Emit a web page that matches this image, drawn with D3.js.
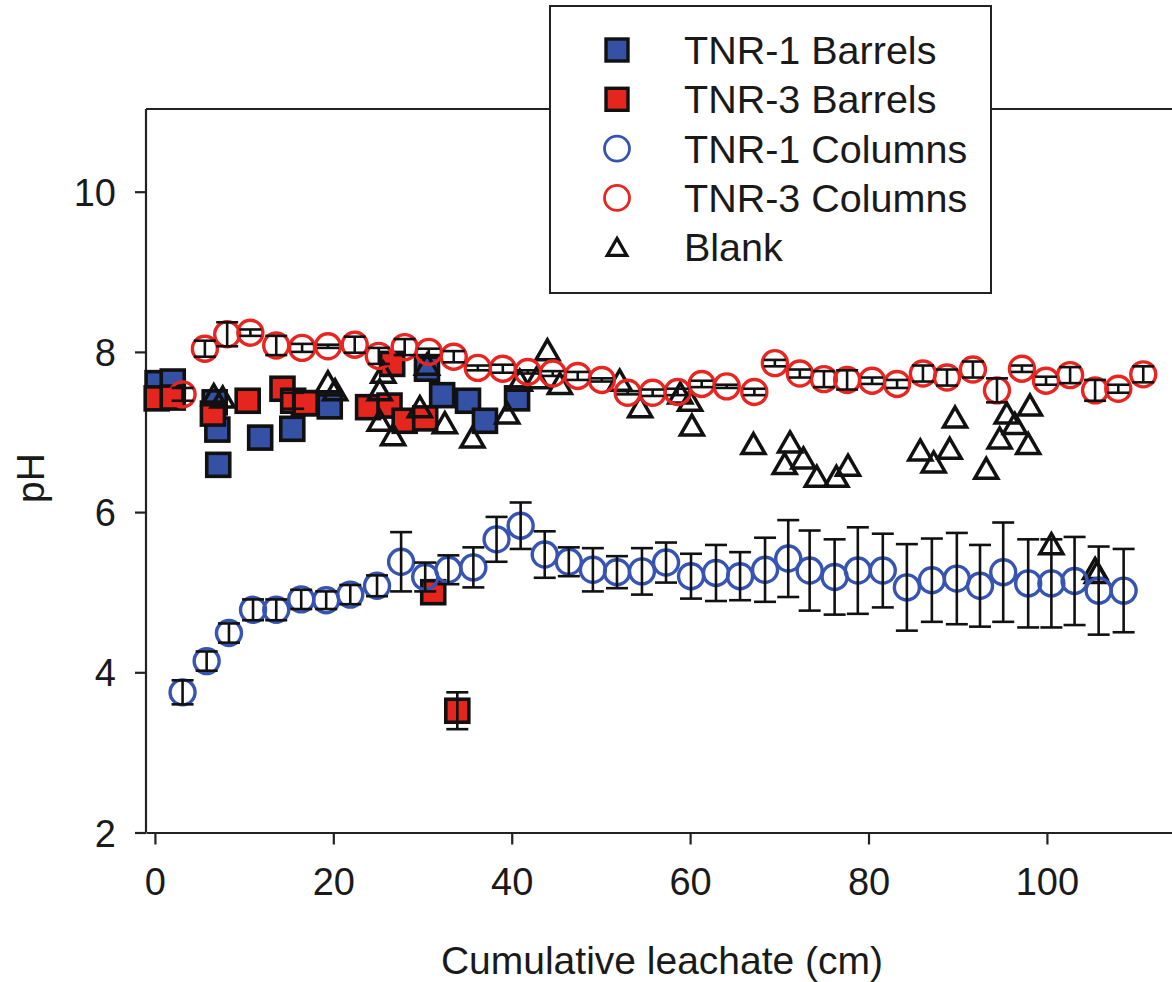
<!DOCTYPE html>
<html>
<head>
<meta charset="utf-8">
<script src="https://cdn.jsdelivr.net/npm/d3@7"></script>
<style>
  body { margin: 0; background: #fff; }
  text { font-family: "Liberation Sans", Arial, sans-serif; fill: #1a1a1a; }
</style>
</head>
<body>
<div id="chart"></div>
<script>
// TNR-1 Columns: cumulative leachate (cm), pH, error
const tnr1ColX = [3.1, 5.8, 8.3, 11.0, 13.6, 16.4, 19.2, 21.9, 24.9, 27.6, 30.3, 32.9, 35.7, 38.3, 41.0, 43.7, 46.4, 49.1, 51.8, 54.6,
    57.3, 60.1, 62.9, 65.6, 68.4, 71.0, 73.4, 76.2, 78.8, 81.6, 84.3, 87.1, 89.9, 92.5, 95.1, 97.9, 100.5, 103.1, 105.8, 108.6];
const tnr1ColPH = [3.75, 4.14, 4.49, 4.78, 4.78, 4.91, 4.90, 4.97, 5.08, 5.38, 5.19, 5.28, 5.31, 5.66, 5.83, 5.47, 5.38, 5.28, 5.25, 5.26,
    5.37, 5.20, 5.24, 5.20, 5.28, 5.42, 5.27, 5.19, 5.27, 5.27, 5.06, 5.15, 5.17, 5.08, 5.25, 5.11, 5.11, 5.14, 5.02, 5.02];
const tnr1ColErr = [0.15, 0.12, 0.12, 0.13, 0.13, 0.12, 0.11, 0.12, 0.13, 0.37, 0.18, 0.18, 0.25, 0.28, 0.29, 0.29, 0.18, 0.27, 0.20, 0.29,
    0.25, 0.28, 0.35, 0.30, 0.40, 0.48, 0.50, 0.47, 0.54, 0.46, 0.54, 0.52, 0.57, 0.51, 0.62, 0.55, 0.55, 0.55, 0.55, 0.52];

// TNR-3 Columns
const tnr3ColX = [3.1, 5.6, 8.1, 10.7, 13.6, 16.5, 19.4, 22.4, 25.1, 28.0, 30.7, 33.5, 36.2, 39.0, 41.8, 44.6, 47.4, 50.1, 53.0, 55.8,
    58.6, 61.3, 64.1, 67.2, 69.5, 72.3, 75.0, 77.6, 80.4, 83.2, 86.1, 88.8, 91.7, 94.4, 97.2, 99.9, 102.6, 105.4, 108.0, 110.8];
const tnr3ColPH = [7.47, 8.04, 8.22, 8.24, 8.08, 8.05, 8.07, 8.09, 7.95, 8.06, 8.00, 7.94, 7.80, 7.79, 7.75, 7.73, 7.70, 7.65, 7.49, 7.49,
    7.50, 7.60, 7.57, 7.50, 7.86, 7.73, 7.66, 7.65, 7.64, 7.60, 7.73, 7.68, 7.78, 7.52, 7.79, 7.64, 7.71, 7.52, 7.54, 7.72];
const tnr3ColErr = [0.08, 0.10, 0.15, 0.04, 0.12, 0.05, 0.02, 0.10, 0.10, 0.10, 0.04, 0.07, 0.03, 0.05, 0.02, 0.03, 0.05, 0.02, 0.02, 0.04,
    0.04, 0.04, 0.02, 0.04, 0.04, 0.05, 0.10, 0.12, 0.04, 0.05, 0.10, 0.10, 0.10, 0.15, 0.04, 0.05, 0.10, 0.13, 0.05, 0.10];

// TNR-1 Barrels
const tnr1BarX = [0.3, 2.0, 6.7, 7.0, 7.1, 11.8, 15.4, 16.7, 19.6, 30.5, 32.2, 35.1, 37.0, 40.6];
const tnr1BarPH = [7.61, 7.63, 7.37, 7.03, 6.59, 6.93, 7.04, 7.36, 7.32, 7.79, 7.46, 7.39, 7.14, 7.42];

// TNR-3 Barrels
const tnr3BarX = [0.2, 2.0, 6.5, 10.4, 14.3, 15.5, 16.9, 23.9, 26.3, 26.6, 28.0, 30.3, 31.2, 33.9];
const tnr3BarPH = [7.42, 7.43, 7.23, 7.39, 7.54, 7.39, 7.36, 7.31, 7.33, 7.85, 7.14, 7.17, 5.00, 3.52];
const tnr3BarErr = [0, 0, 0, 0, 0, 0.10, 0, 0, 0, 0, 0, 0, 0, 0.23];

// Blank
const blankX = [6.6, 7.6, 19.4, 20.2, 25.6, 25.2, 25.2, 26.7, 29.7, 30.5, 32.5, 35.6, 39.5, 40.9, 42.8, 44.0, 45.4, 52.1, 54.4, 58.9,
    60.0, 60.2, 67.1, 71.2, 70.6, 72.7, 74.2, 76.4, 77.7, 85.8, 87.3, 89.1, 89.7, 93.2, 94.7, 95.5, 96.4, 98.1, 97.9, 100.5, 105.4, 105.6];
const blankPH = [7.46, 7.43, 7.62, 7.52, 7.74, 7.52, 7.14, 6.96, 7.31, 7.84, 7.11, 6.93, 7.23, 7.64, 7.67, 8.02, 7.60, 7.64, 7.31, 7.48,
    7.39, 7.08, 6.85, 6.87, 6.60, 6.67, 6.44, 6.44, 6.58, 6.77, 6.62, 6.79, 7.18, 6.54, 6.92, 7.23, 7.10, 7.33, 6.85, 5.60, 5.29, 5.24];

const xTicks = [0, 20, 40, 60, 80, 100];
const yTicks = [2, 4, 6, 8, 10];
const legendLabels = ["TNR-1 Barrels", "TNR-3 Barrels", "TNR-1 Columns", "TNR-3 Columns", "Blank"];

const BLUE = "#3451a6";
const RED = "#e5261f";
const BLUE_LINE = "#3654b2";
const RED_LINE = "#e82520";

// Set the dimensions and margins of the graph
const W = 1172, H = 982;
const margin = { top: 109, left: 146 };
const plotBottom = 832.5;

const svg = d3.select("#chart")
    .append("svg")
    .attr("width", W)
    .attr("height", H);

const x = d3.scaleLinear()
    .domain([-1, 115])
    .range([margin.left, margin.left + 116 * 8.92]);

const y = d3.scaleLinear()
    .domain([2, 10])
    .range([plotBottom, 191.7]);

// zip helper
const zip = (xs, ys, es) => xs.map((v, i) => ({ x: v, y: ys[i], e: es ? es[i] : 0 }));

const tnr1Col = zip(tnr1ColX, tnr1ColPH, tnr1ColErr);
const tnr3Col = zip(tnr3ColX, tnr3ColPH, tnr3ColErr);
const tnr1Bar = zip(tnr1BarX, tnr1BarPH);
const tnr3Bar = zip(tnr3BarX, tnr3BarPH, tnr3BarErr);
const blank = zip(blankX, blankPH);

// top frame line
svg.append("line")
    .attr("x1", margin.left).attr("x2", W + 10)
    .attr("y1", margin.top).attr("y2", margin.top)
    .attr("stroke", "#222").attr("stroke-width", 2);

// Axes
const xAxis = svg.append("g")
    .attr("transform", `translate(0,${plotBottom})`)
    .call(d3.axisBottom(x).tickValues(xTicks).tickSize(12).tickSizeOuter(0).tickPadding(24));

const yAxis = svg.append("g")
    .attr("transform", `translate(${margin.left},0)`)
    .call(d3.axisLeft(y).tickValues(yTicks).tickSize(11).tickSizeOuter(0).tickPadding(19));

// y axis line goes up to the frame top
yAxis.select(".domain").attr("d", `M0,${margin.top}V${plotBottom}`);

[xAxis, yAxis].forEach(g => {
    g.select(".domain").attr("stroke", "#222").attr("stroke-width", 2.2);
    g.selectAll(".tick line").attr("stroke", "#222").attr("stroke-width", 2.2);
    g.selectAll(".tick text")
        .attr("font-size", 38)
        .attr("font-family", "Liberation Sans, Arial, sans-serif")
        .attr("fill", "#1a1a1a");
});
yAxis.selectAll(".tick text").attr("dy", "0.36em");

// Axis titles
svg.append("text")
    .attr("x", 662)
    .attr("y", 974)
    .attr("text-anchor", "middle")
    .attr("font-size", 39)
    .text("Cumulative leachate (cm)");

svg.append("text")
    .attr("transform", "translate(44,478) rotate(-90)")
    .attr("text-anchor", "middle")
    .attr("font-size", 39)
    .text("pH");

// Error bars helper
function errorBars(data, capW) {
    const g = svg.append("g").attr("stroke", "#111").attr("stroke-width", 2.6);
    data.filter(d => d.e > 0).forEach(d => {
        const cx = x(d.x), y0 = y(d.y - d.e), y1 = y(d.y + d.e);
        g.append("line").attr("x1", cx).attr("x2", cx).attr("y1", y0).attr("y2", y1);
        g.append("line").attr("x1", cx - capW / 2).attr("x2", cx + capW / 2).attr("y1", y0).attr("y2", y0);
        g.append("line").attr("x1", cx - capW / 2).attr("x2", cx + capW / 2).attr("y1", y1).attr("y2", y1);
    });
}

// Squares (barrels)
function squares(data, fill) {
    svg.append("g").selectAll("rect")
        .data(data)
        .enter()
        .append("rect")
        .attr("x", d => x(d.x) - 11.5)
        .attr("y", d => y(d.y) - 11.5)
        .attr("width", 23)
        .attr("height", 23)
        .attr("fill", fill)
        .attr("stroke", "#111")
        .attr("stroke-width", 3.6);
}

squares(tnr1Bar, BLUE);
squares(tnr3Bar, RED);
errorBars(tnr3Bar, 22);

// Triangles (blank)
const tri = "M0,-11.5L11.5,8.5L-11.5,8.5Z";
svg.append("g").selectAll("path")
    .data(blank)
    .enter()
    .append("path")
    .attr("transform", d => `translate(${x(d.x)},${y(d.y) + 1})`)
    .attr("d", tri)
    .attr("fill", "none")
    .attr("stroke", "#111")
    .attr("stroke-width", 3.5)
    .attr("stroke-linejoin", "miter");

// Circles (columns) with error bars
function circles(data, color) {
    svg.append("g").selectAll("circle")
        .data(data)
        .enter()
        .append("circle")
        .attr("cx", d => x(d.x))
        .attr("cy", d => y(d.y))
        .attr("r", 12.5)
        .attr("fill", "none")
        .attr("stroke", color)
        .attr("stroke-width", 3.4);
    errorBars(data, 22);
}

circles(tnr1Col, BLUE_LINE);
circles(tnr3Col, RED_LINE);

// Legend
const legend = svg.append("g");
legend.append("rect")
    .attr("x", 550).attr("y", 6)
    .attr("width", 441).attr("height", 287)
    .attr("fill", "#fff")
    .attr("stroke", "#222")
    .attr("stroke-width", 2);

const rowY = d3.range(5).map(i => 50 + i * 49.3);
const symX = 617;

legend.append("rect").attr("x", symX - 11).attr("y", rowY[0] - 11).attr("width", 22).attr("height", 22)
    .attr("fill", BLUE).attr("stroke", "#111").attr("stroke-width", 3.4);
legend.append("rect").attr("x", symX - 11).attr("y", rowY[1] - 11).attr("width", 22).attr("height", 22)
    .attr("fill", RED).attr("stroke", "#111").attr("stroke-width", 3.4);
legend.append("circle").attr("cx", symX).attr("cy", rowY[2]).attr("r", 12.5)
    .attr("fill", "none").attr("stroke", BLUE_LINE).attr("stroke-width", 2.8);
legend.append("circle").attr("cx", symX).attr("cy", rowY[3]).attr("r", 12.5)
    .attr("fill", "none").attr("stroke", RED_LINE).attr("stroke-width", 2.8);
legend.append("path").attr("transform", `translate(${symX},${rowY[4] + 1}) scale(0.85)`).attr("d", tri)
    .attr("fill", "none").attr("stroke", "#111").attr("stroke-width", 3.8);

legend.selectAll("text.lbl")
    .data(legendLabels)
    .enter()
    .append("text")
    .attr("class", "lbl")
    .attr("x", 684)
    .attr("y", (d, i) => rowY[i] + 14)
    .attr("font-size", 39.5)
    .text(d => d);
</script>
</body>
</html>
